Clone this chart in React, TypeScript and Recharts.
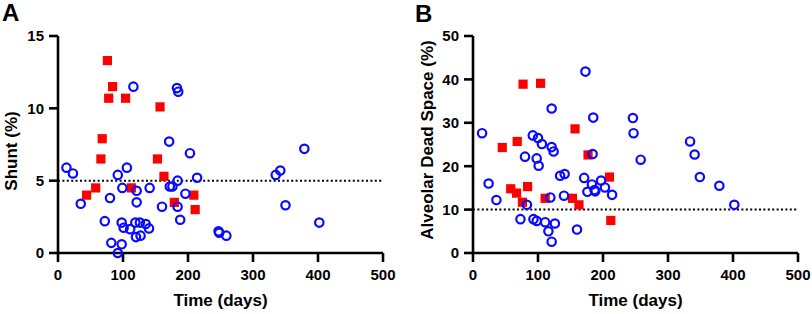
import React from 'react'
import {ScatterChart, Scatter, XAxis, YAxis, ReferenceLine} from 'recharts'

// Panel A - shunt (%)
const shuntBlueDays = [13, 23, 35, 72, 80, 82, 92, 98, 99, 98, 92, 101, 106, 111, 116, 119, 121, 121, 120, 126, 127, 135, 140, 141, 160, 171, 172, 176, 183, 185, 184, 184, 188, 196, 203, 214, 247, 248, 259, 335, 342, 350, 379, 402]
const shuntBlue = [5.9, 5.5, 3.4, 2.2, 3.8, 0.7, 5.4, 2.1, 4.5, 0.6, 0, 1.75, 5.9, 1.65, 11.5, 2.1, 4.3, 3.5, 1.1, 2.1, 1.2, 2.0, 1.7, 4.5, 3.2, 7.7, 4.6, 4.6, 11.4, 11.15, 5.0, 3.2, 2.3, 4.1, 6.9, 5.2, 1.5, 1.4, 1.2, 5.4, 5.7, 3.3, 7.2, 2.1]
const shuntRedDays = [44, 58, 66, 68, 76, 78, 84, 104, 113, 153, 157, 163, 179, 209, 211]
const shuntRed = [4.0, 4.5, 6.5, 7.9, 13.3, 10.7, 11.5, 10.7, 4.5, 6.5, 10.1, 5.3, 3.5, 4.0, 3.0]

// Panel B - alveolar dead space (%)
const deadBlueDays = [14, 24, 36, 73, 80, 83, 92, 93, 98, 98, 100, 101, 106, 111, 116, 119, 121, 121, 121, 124, 126, 134, 141, 140, 160, 171, 173, 176, 183, 184, 185, 187, 188, 197, 203, 214, 246, 247, 258, 334, 341, 349, 379, 402]
const deadBlue = [27.6, 16.0, 12.2, 7.8, 22.2, 11.1, 27.1, 7.8, 7.4, 21.8, 26.5, 20.1, 25.1, 7.1, 5.0, 12.8, 2.6, 33.3, 24.4, 23.4, 6.8, 17.8, 18.2, 13.2, 5.4, 17.3, 41.8, 14.1, 15.8, 22.8, 31.2, 14.5, 14.2, 16.7, 15.1, 13.4, 31.1, 27.6, 21.5, 25.7, 22.7, 17.5, 15.5, 11.1]
const deadRedDays = [45, 58, 67, 68, 76, 77, 84, 104, 111, 153, 157, 163, 177, 210, 212]
const deadRed = [24.3, 14.8, 13.8, 25.7, 11.7, 38.9, 15.3, 39.1, 12.6, 12.6, 28.6, 11.1, 22.6, 17.5, 7.5]

const xTicks = [0, 100, 200, 300, 400, 500]
const shuntTicks = [0, 5, 10, 15]
const deadTicks = [0, 10, 20, 30, 40, 50]

const zip = (xs: number[], ys: number[]) => xs.map((x, i) => ({x, y: ys[i]}))

const FONT = 'Arial, "Liberation Sans", Helvetica, sans-serif'
const BLUE = '#0a0aff'
const RED = '#ff0000'

const Ring = (p: any) => (
  <circle cx={p.cx} cy={p.cy} r={4.2} fill="none" stroke={BLUE} strokeWidth={2.2} />
)
const Box = (p: any) => (
  <rect x={p.cx - 4.6} y={p.cy - 4.6} width={9.2} height={9.2} fill={RED} />
)

const tickStyle = {fill: '#000', fontSize: 15, fontWeight: 700, fontFamily: FONT}
const titleStyle = {fontSize: 17, fontWeight: 700, fontFamily: FONT, fill: '#000'}

const yTitle = (text: string, cx: number, cy: number) => () => (
  <text x={cx} y={cy} transform={`rotate(-90 ${cx} ${cy})`} textAnchor="middle" dominantBaseline="central"
    style={titleStyle}>{text}</text>
)

function Panel({blue, red, yTicks, yMax, refY, yWidth, right, title, titleX, titleY}: any) {
  return (
    <ScatterChart width={406} height={314} margin={{top: 36, right, bottom: 0, left: 0}}>
      <XAxis type="number" dataKey="x" domain={[0, 500]} ticks={xTicks} interval={0}
        axisLine={{stroke: '#000', strokeWidth: 2.6}} tickLine={{stroke: '#000', strokeWidth: 2.6}}
        tickSize={9} tickMargin={7} tick={tickStyle} height={61}
        label={{value: 'Time (days)', position: 'insideBottom', offset: 8, style: titleStyle}} />
      <YAxis type="number" dataKey="y" domain={[0, yMax]} ticks={yTicks} interval={0}
        axisLine={{stroke: '#000', strokeWidth: 2.6}} tickLine={{stroke: '#000', strokeWidth: 2.6}}
        tickSize={9} tickMargin={5} tick={tickStyle} width={yWidth}
        label={yTitle(title, titleX, titleY)} />
      <ReferenceLine y={refY} stroke="#000" strokeWidth={2} strokeDasharray="2 2.4" />
      <Scatter data={red} shape={Box} isAnimationActive={false} />
      <Scatter data={blue} shape={Ring} isAnimationActive={false} />
    </ScatterChart>
  )
}

const letterStyle = {fontSize: 24, fontWeight: 700, fontFamily: FONT, fill: '#000'}

export default function App() {
  return (
    <div style={{position: 'absolute', left: 0, top: 0, width: 812, height: 314, background: '#fff'}}>
      <div style={{position: 'absolute', left: 0, top: 0}}>
        <Panel blue={zip(shuntBlueDays, shuntBlue)} red={zip(shuntRedDays, shuntRed)}
          yTicks={shuntTicks} yMax={15} refY={5} yWidth={58} right={23}
          title="Shunt (%)" titleX={11} titleY={151} />
      </div>
      <div style={{position: 'absolute', left: 406, top: 0}}>
        <Panel blue={zip(deadBlueDays, deadBlue)} red={zip(deadRedDays, deadRed)}
          yTicks={deadTicks} yMax={50} refY={10} yWidth={67} right={14}
          title="Alveolar Dead Space (%)" titleX={21} titleY={140} />
      </div>
      <svg width={812} height={314} style={{position: 'absolute', left: 0, top: 0, pointerEvents: 'none'}}>
        <text x={2} y={21} style={letterStyle}>A</text>
        <text x={415} y={22} style={letterStyle}>B</text>
      </svg>
    </div>
  )
}
